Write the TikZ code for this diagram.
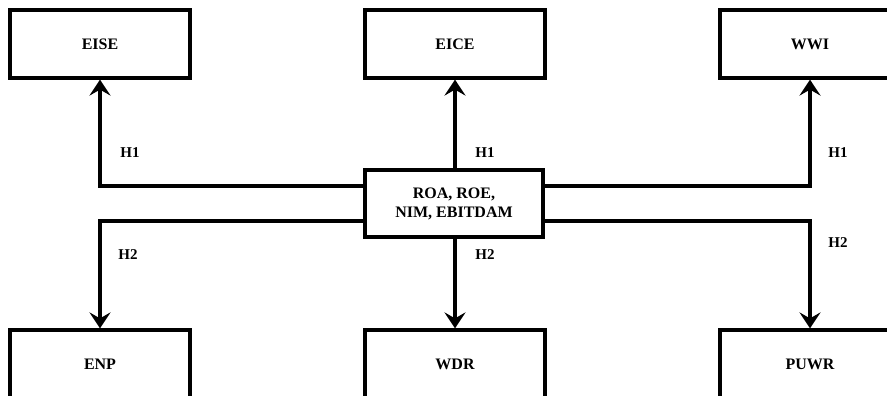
\documentclass[tikz,border=0pt]{standalone}
\usepackage{fontspec}
\setmainfont{Liberation Serif}
\usetikzlibrary{arrows.meta}

\tikzset{
  box/.style={draw,line width=3.2pt,inner sep=0pt,minimum width=180pt,minimum height=68pt,
    align=center,font=\fontsize{16}{19}\selectfont\bfseries},
  arr/.style={line width=3.2pt,-{Stealth[length=16pt,width=21pt,inset=6pt]}},
  hyp/.style={font=\fontsize{15}{17}\selectfont\bfseries}
}

\begin{document}
\begin{tikzpicture}[x=1pt,y=1pt]
  \useasboundingbox (0,0) rectangle (887,396);

  % outcome boxes, top row
  \node[box] (eise) at (100,352) {EISE};
  \node[box] (eice) at (455,352) {EICE};
  \node[box] (wwi) at (810,352) {WWI};

  % outcome boxes, bottom row
  \node[box] (enp) at (100,32) {ENP};
  \node[box] (wdr) at (455,32) {WDR};
  \node[box] (puwr) at (810,32) {PUWR};

  % performance measures
  \node[box,minimum width=178pt,minimum height=67pt] (perf) at (454,192.5) {ROA, ROE,\\NIM, EBITDAM};

  \draw[arr] ([yshift=17.5pt]perf.west) -| (eise.south);
  \draw[arr] (perf.north -| eice.south) -- (eice.south);
  \draw[arr] ([yshift=17.5pt]perf.east) -| (wwi.south);
  \draw[arr] ([yshift=-17.5pt]perf.west) -| (enp.north);
  \draw[arr] (perf.south -| wdr.north) -- (wdr.north);
  \draw[arr] ([yshift=-17.5pt]perf.east) -| (puwr.north);

  \node[hyp] (h1a) at (130,243) {H1};
  \node[hyp] (h1b) at (485,243) {H1};
  \node[hyp] (h1c) at (838,243) {H1};
  \node[hyp] (h2a) at (128,141) {H2};
  \node[hyp] (h2b) at (485,141) {H2};
  \node[hyp] (h2c) at (838,153) {H2};
\end{tikzpicture}
\end{document}
